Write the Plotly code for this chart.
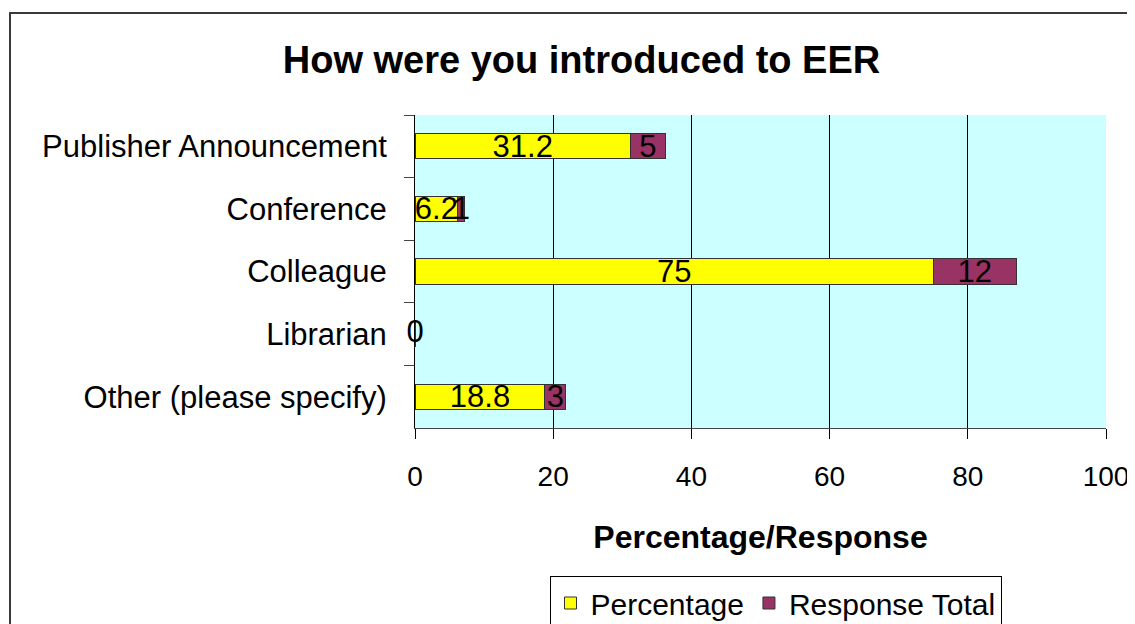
import plotly.graph_objects as go

categories = ["Publisher Announcement", "Conference", "Colleague", "Librarian", "Other (please specify)"]
percentage = [31.2, 6.2, 75, 0, 18.8]
response_total = [5, 1, 12, 0, 3]
x_ticks = [0, 20, 40, 60, 80, 100]

# page offset of the figure inside the browser window (body margin)
OFF = 8
W, H = 1135 - OFF, 624 - OFF
ML, MR, MT, MB = 415 - OFF, 29, 115 - OFF, 196
PW, PH = W - ML - MR, H - MT - MB
FONT = "Liberation Sans, Arial, sans-serif"

fig = go.Figure()
fig.add_trace(go.Bar(
    y=categories, x=percentage, name="Percentage", orientation="h",
    marker=dict(color="#FFFF00", line=dict(color="#333333", width=1)),
    text=[f"{v:g}" for v in percentage], textposition="inside",
    insidetextanchor="middle", constraintext="none", textangle=0,
    textfont=dict(color="black", size=31, family=FONT),
))
fig.add_trace(go.Bar(
    y=categories, x=response_total, name="Response Total", orientation="h",
    marker=dict(color="#993366", line=dict(color="#333333", width=1)),
    text=[f"{v:g}" for v in response_total], textposition="inside",
    insidetextanchor="middle", constraintext="none", textangle=0,
    textfont=dict(color="black", size=31, family=FONT),
))

# labels for zero-width bars (the bar itself has no room to carry its text)
zero_idx = [i for i, (p, r) in enumerate(zip(percentage, response_total)) if p + r == 0]
fig.add_trace(go.Scatter(
    y=[categories[i] for i in zero_idx], x=[percentage[i] for i in zero_idx],
    text=[f"{percentage[i]:g}" for i in zero_idx], mode="text",
    textposition="middle center", textfont=dict(color="black", size=31, family=FONT),
    showlegend=False, hoverinfo="skip", cliponaxis=False,
))


def px_x(px):
    return (px - OFF - ML) / PW


def px_y(py):
    return (H - MB - (py - OFF)) / PH


fig.add_shape(type="rect", xref="paper", yref="paper",
              x0=px_x(10), x1=px_x(1160), y0=px_y(13), y1=px_y(660),
              line=dict(color="#3a3a3a", width=2), fillcolor="rgba(0,0,0,0)", layer="above")

fig.update_layout(
    width=W, height=H,
    margin=dict(l=ML, r=MR, t=MT, b=MB, autoexpand=False),
    paper_bgcolor="white", plot_bgcolor="#CCFFFF",
    barmode="stack", bargap=0.6,
    font=dict(family=FONT, color="black", size=30),
    title=dict(text="How were you introduced to EER", xref="container", yref="container",
               x=(581.5 - OFF) / W, xanchor="center", y=1 - (60 - OFF) / H, yanchor="middle",
               font=dict(size=38, weight="bold", family=FONT, color="black")),
    xaxis=dict(range=[0, 100], tickvals=x_ticks, ticks="outside", ticklen=10, tickcolor="black",
               showgrid=True, gridcolor="black", gridwidth=1, zeroline=False,
               showline=True, linecolor="#444444", linewidth=1,
               tickfont=dict(size=28), ticklabelstandoff=13, automargin=False,
               title=dict(text="Percentage/Response", standoff=35,
                          font=dict(size=32, weight="bold"))),
    yaxis=dict(autorange="reversed", ticks="outside", ticklen=10, tickcolor="#444444",
               tickson="boundaries", showgrid=False, zeroline=False,
               showline=True, linecolor="black", linewidth=1,
               tickfont=dict(size=31), ticklabelstandoff=21, automargin=False),
    legend=dict(orientation="h", x=px_x(775.5), xanchor="center", y=px_y(576), yanchor="top",
                bordercolor="black", borderwidth=1, bgcolor="white",
                font=dict(size=30), traceorder="normal"),
    showlegend=True,
)

fig.write_html("out.html")
